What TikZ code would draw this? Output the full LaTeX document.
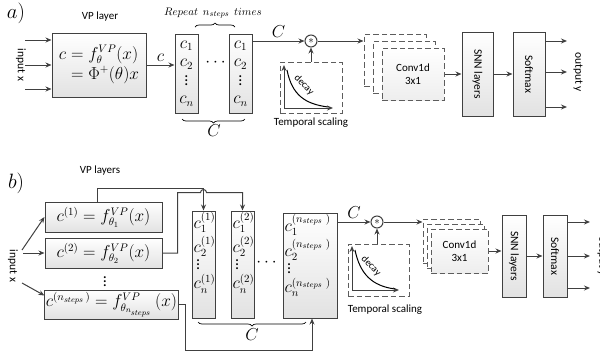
\documentclass[tikz,border=0pt]{standalone}
\usepackage{amsmath,amssymb}
\usepackage{fontspec}
\setmainfont{Carlito}
\usepackage{tikz}
\usetikzlibrary{arrows.meta,positioning,calc,decorations.pathreplacing}
\definecolor{linegrey}{RGB}{64,64,64}
\definecolor{boxgrey}{RGB}{226,226,226}

\begin{document}
\begin{tikzpicture}[x=1pt, y=-1pt, line width=1pt,
  every node/.style={font=\fontsize{11}{13}\selectfont},
  procbox/.style={draw=linegrey, line width=1pt, top color=white, bottom color=boxgrey, inner sep=1pt},
  dashbox/.style={draw=linegrey!85, line width=1pt, dash pattern=on 5.5pt off 3pt, fill=white},
  mult/.style={draw=linegrey, circle, fill=white, minimum size=12pt, inner sep=0pt},
  arr/.style={draw=linegrey, -{Stealth[length=6pt, width=5pt]}},
  brc/.style={draw=black, line width=0.7pt, decorate, decoration={brace, amplitude=4pt}},
  mathtxt/.style={font=\fontsize{16}{18}\selectfont},
  vtext/.style={rotate=-90, font=\fontsize{11.5}{13}\selectfont}]
\useasboundingbox (0,0) rectangle (600,354);

% ---------- a) ----------
\node[font=\fontsize{20}{22}\selectfont] (la) at (16,13) {$a)$};
\node (vptitle) at (100,17) {VP layer};
\node[procbox, mathtxt, minimum width=94pt, minimum height=64pt] (vp) at (99,65)
  {$\begin{aligned} c &= f_{\theta}^{VP}(x)\\[-3pt] &= \Phi^{+}(\theta)x \end{aligned}$};
\node[vtext] (inxa) at (21,65) {input x};
\coordinate (ina1) at (25,40);
\coordinate (ina2) at (25,65);
\coordinate (ina3) at (25,89);
\draw[arr] (ina1) -- (vp.west |- ina1);
\draw[arr] (ina2) -- (vp.west |- ina2);
\draw[arr] (ina3) -- (vp.west |- ina3);

\node[procbox, mathtxt, align=center, font=\fontsize{16}{18.5}\selectfont, minimum width=23pt, minimum height=79pt] (ca1) at (186.5,73.5)
  {$c_1$\\$c_2$\\$\vdots$\\$c_n$};
\node[procbox, mathtxt, align=center, font=\fontsize{16}{18.5}\selectfont, minimum width=23pt, minimum height=79pt] (ca2) at (240.5,73.5)
  {$c_1$\\$c_2$\\$\vdots$\\$c_n$};
\node[mathtxt] (dota) at (217,63) {$\cdots$};
\draw[arr] (vp.east) -- (ca1.west |- vp.east) node[midway, above, mathtxt] {$c$};
\draw[brc] (195,27) -- (235,27);
\node[font=\fontsize{11}{13}\selectfont] (rep) at (213,13) {$Repeat\ \ n_{steps}\ \ times$};
\draw[brc] (245,119) -- (182,119);
\node[mathtxt] (bca) at (214,131) {$C$};

% temporal scaling
\node[mult] (ma) at (311,41) {$\ast$};
\draw[arr] (ca2.east |- ma) -- (ma.west) node[midway, above, mathtxt] {$C$};
\node[dashbox, minimum width=62pt, minimum height=51pt] (tsa) at (311,87.5) {};
\draw[arr] (284,108) -- (284,65);
\draw[arr] (284,108) -- (333,108);
\draw (287,70) .. controls (292,95) and (305,104) .. (328,107);
\node[rotate=-45, font=\fontsize{10}{12}\selectfont] (dca) at (304,85) {decay};
\node (tla) at (311,123) {Temporal scaling};
\draw[arr] (tsa.north -| ma) -- (ma.south);

% conv, snn, softmax
\node[dashbox, minimum width=62pt, minimum height=52pt] (cva3) at (395,60) {};
\node[dashbox, minimum width=62pt, minimum height=52pt] (cva2) at (404,67) {};
\node[dashbox, top color=white, bottom color=boxgrey!60, align=center, minimum width=62pt, minimum height=52pt] (cva1) at (413,74) {Conv1d\\3x1};
\draw[arr] (ma.east) -- (cva3.west |- ma);
\node[procbox, minimum width=31pt, minimum height=84pt] (snna) at (477.5,74) {};
\node[vtext] (snnta) at (snna) {SNN layers};
\node[procbox, minimum width=32pt, minimum height=84pt] (sma) at (529,74) {};
\node[vtext] (smta) at (sma) {Softmax};
\draw[arr] (cva1.east) -- (snna.west |- cva1.east);
\draw[arr] (snna.east |- cva1.east) -- (sma.west |- cva1.east);
\coordinate (outa1) at (567,41);
\coordinate (outa2) at (567,72);
\coordinate (outa3) at (567,107);
\draw[arr] (sma.east |- outa1) -- (outa1);
\draw[arr] (sma.east |- outa2) -- (outa2);
\draw[arr] (sma.east |- outa3) -- (outa3);
\node[vtext] (outta) at (578,72) {output y};

% ---------- b) ----------
\node[font=\fontsize{20}{22}\selectfont] (lb) at (16,183) {$b)$};
\node (vpbtitle) at (100,171) {VP layers};
\node[procbox, mathtxt, minimum width=117pt, minimum height=30pt] (vb1) at (103.5,217) {$c^{(1)} = f^{VP}_{\theta_1}(x)$};
\node[procbox, mathtxt, minimum width=117pt, minimum height=30pt] (vb2) at (103.5,253) {$c^{(2)} = f^{VP}_{\theta_2}(x)$};
\node[procbox, mathtxt, minimum width=133pt, minimum height=29pt] (vb3) at (111.5,304.5) {$c^{(n_{steps}\,)} = f^{VP}_{\theta_{n_{steps}}}\ (x)$};
\node[mathtxt] (vdb) at (105,279) {$\vdots$};
\node[vtext] (inxb) at (13,266) {input x};
\coordinate (inb1) at (22,250);
\coordinate (inb2) at (23,253);
\coordinate (inb3) at (22,283);
\draw[arr] (inb1) -- (vb1.west);
\draw[arr] (inb2) -- (vb2.west);
\draw[arr] (inb3) -- ($(vb3.north west)!0.2!(vb3.south west)$);

\node[procbox, minimum width=23pt, minimum height=107pt] (cb1) at (203.5,264.5) {};
\node[align=left, anchor=north west, inner sep=0pt, font=\fontsize{16}{21}\selectfont] (tb1) at ($(cb1.north west)+(1.5,1)$)
  {$c_1^{(1)}$\\[3pt]$c_2^{(1)}$\\[-4pt]\,$\vdots$\\[-2pt]$c_n^{(1)}$};
\node[procbox, minimum width=23pt, minimum height=107pt] (cb2) at (242.5,264.5) {};
\node[align=left, anchor=north west, inner sep=0pt, font=\fontsize{16}{21}\selectfont] (tb2) at ($(cb2.north west)+(1.5,1)$)
  {$c_1^{(2)}$\\[3pt]$c_2^{(2)}$\\[-4pt]\,$\vdots$\\[-2pt]$c_n^{(2)}$};
\node[procbox, minimum width=54pt, minimum height=105pt] (cb3) at (310,265.5) {};
\node[align=left, anchor=north west, inner sep=0pt, font=\fontsize{16}{21}\selectfont] (tb3) at ($(cb3.north west)+(1.5,1)$)
  {$c_1^{(n_{steps}\ )}$\\[3pt]$c_2^{(n_{steps}\ )}$\\[-4pt]\,$\vdots$\\[-2pt]$c_n^{(n_{steps}\ )}$};
\node[mathtxt] (dotb) at (268,263) {$\cdots$};
\draw[brc] (306,322) -- (198,322);
\node[mathtxt] (bcb) at (252,335) {$C$};

% VP outputs to columns
\draw[arr] ($(vb1.north)+(-6,0)$) |- ($(cb1.north)+(0,-22)$) -- (cb1.north);
\draw[arr] (vb2.east) -- ++(15,0) |- ($(cb1.north)+(-3,-18)$)
  arc[start angle=-180, end angle=0, radius=3] -| (cb2.north);
\draw[arr] (vb3.east) -- ++(7,0) |- ($(cb3.south)+(2,32)$) -- ($(cb3.south)+(2,0)$);

% temporal scaling
\node[mult] (mb) at (377,222) {$\ast$};
\draw[arr] (cb3.east |- mb) -- (mb.west) node[midway, above, mathtxt] {$C$};
\node[dashbox, minimum width=61pt, minimum height=52pt] (tsb) at (378.5,270) {};
\draw[arr] (352,290) -- (352,246);
\draw[arr] (352,290) -- (399,290);
\draw (355,250) .. controls (360,274) and (372,286) .. (395,289);
\node[rotate=-45, font=\fontsize{10}{12}\selectfont] (dcb) at (371,266) {decay};
\node (tlb) at (385,310) {Temporal scaling};
\draw[arr] (tsb.north -| mb) -- (mb.south);

% conv, snn, softmax
\node[dashbox, minimum width=57pt, minimum height=44pt] (cvb3) at (451.5,241) {};
\node[dashbox, minimum width=57pt, minimum height=44pt] (cvb2) at (455.5,246) {};
\node[dashbox, top color=white, bottom color=boxgrey!60, align=center, minimum width=57pt, minimum height=44pt] (cvb1) at (459.5,251) {Conv1d\\3x1};
\draw[arr] (mb.east) -- (cvb3.west |- mb);
\node[procbox, minimum width=24pt, minimum height=82pt] (snnb) at (514,256) {};
\node[vtext] (snntb) at (snnb) {SNN layers};
\node[procbox, minimum width=24pt, minimum height=82pt] (smb) at (555,256) {};
\node[vtext] (smtb) at (smb) {Softmax};
\draw[arr] (cvb1.east) -- (snnb.west |- cvb1.east);
\draw[arr] (snnb.east |- snnb) -- (smb.west |- snnb);
\coordinate (outb1) at (590,222);
\coordinate (outb2) at (590,256);
\coordinate (outb3) at (590,288);
\draw[arr] (smb.east |- outb1) -- (outb1);
\draw[arr] (smb.east |- outb2) -- (outb2);
\draw[arr] (smb.east |- outb3) -- (outb3);
\node[vtext] (outtb) at (602,256) {output y};
\end{tikzpicture}
\end{document}
